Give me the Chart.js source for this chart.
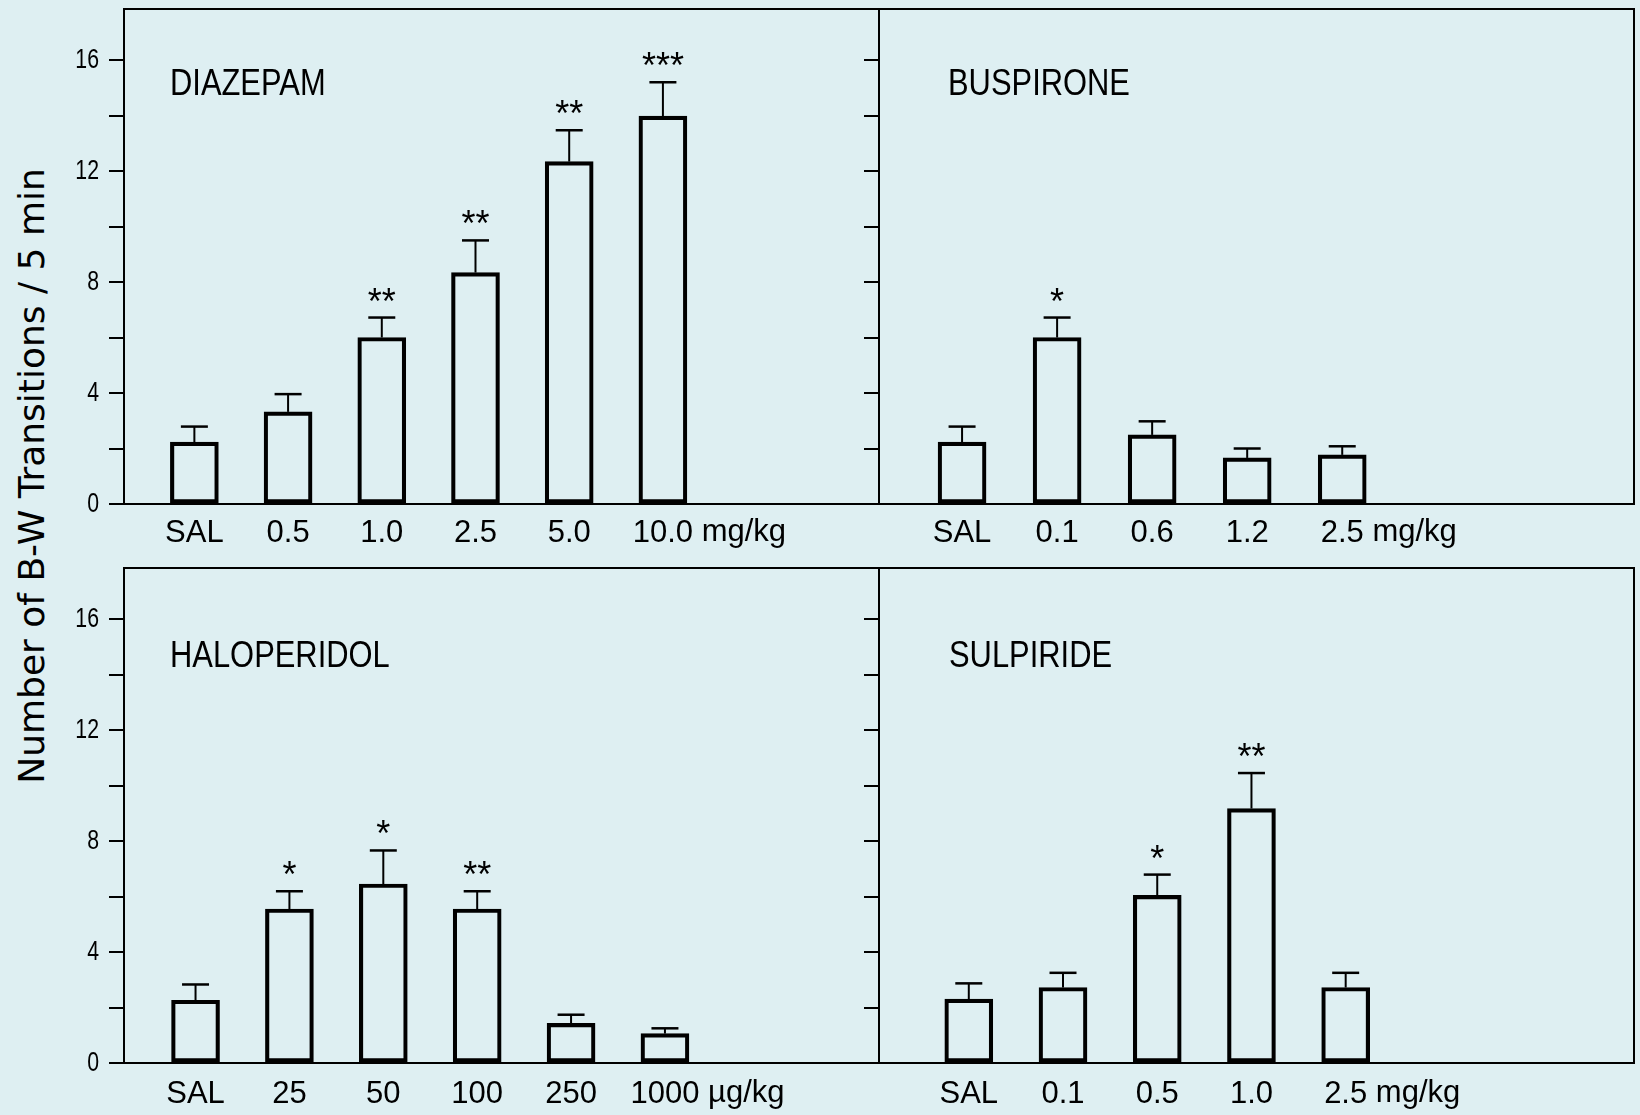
<!DOCTYPE html>
<html>
<head>
<meta charset="utf-8">
<script src="https://cdn.jsdelivr.net/npm/chart.js@4.4.1/dist/chart.umd.min.js"></script>
<style>
  html, body { margin: 0; padding: 0; background: #deeff2; }
  #page { position: relative; width: 1640px; height: 1115px; background: #deeff2; overflow: hidden; }
  .panel { position: absolute; width: 885px; }
  #ytitle {
    position: absolute; left: 31px; top: 476px;
    transform: translate(-50%, -50%) rotate(-90deg);
    font: 36px "DejaVu Sans", sans-serif; white-space: nowrap; color: #000;
  }
</style>
</head>
<body>
<div id="page">
  <div id="ytitle">Number of B-W Transitions / 5 min</div>
  <div class="panel" style="left:0;top:0;height:560px"><canvas id="diazepam"></canvas></div>
  <div class="panel" style="left:755px;top:0;height:560px"><canvas id="buspirone"></canvas></div>
  <div class="panel" style="left:0;top:559px;height:556px"><canvas id="haloperidol"></canvas></div>
  <div class="panel" style="left:755px;top:559px;height:556px"><canvas id="sulpiride"></canvas></div>
</div>
<script>
// y axis, shared by all panels
const yTicks = [0, 2, 4, 6, 8, 10, 12, 14, 16];
const yLabelled = [0, 4, 8, 12, 16];

// DIAZEPAM
const diazepamDoses = ['SAL', '0.5', '1.0', '2.5', '5.0', '10.0'];
const diazepamMeans = [2.23, 3.32, 6.0, 8.34, 12.34, 13.98];
const diazepamSem = [0.56, 0.64, 0.72, 1.16, 1.13, 1.22];
const diazepamStars = ['', '', '**', '**', '**', '***'];

// BUSPIRONE
const buspironeDoses = ['SAL', '0.1', '0.6', '1.2', '2.5'];
const buspironeMeans = [2.23, 6.0, 2.49, 1.66, 1.77];
const buspironeSem = [0.56, 0.72, 0.49, 0.34, 0.31];
const buspironeStars = ['', '*', '', '', ''];

// HALOPERIDOL
const haloperidolDoses = ['SAL', '25', '50', '100', '250', '1000'];
const haloperidolMeans = [2.26, 5.55, 6.45, 5.55, 1.43, 1.06];
const haloperidolSem = [0.57, 0.64, 1.21, 0.64, 0.31, 0.19];
const haloperidolStars = ['', '*', '*', '**', '', ''];

// SULPIRIDE
const sulpirideDoses = ['SAL', '0.1', '0.5', '1.0', '2.5'];
const sulpirideMeans = [2.30, 2.72, 6.04, 9.17, 2.72];
const sulpirideSem = [0.57, 0.53, 0.75, 1.28, 0.53];
const sulpirideStars = ['', '', '*', '**', ''];

const sans = '"Liberation Sans", Arial, sans-serif';
const xFontSize = 31;
const xLabelOffset = 25; // where chart.js puts the middle of an x label, below padding

// no narrow Arial installed, so squeeze Liberation Sans horizontally
function narrowText(ctx, text, x, y, size, squeeze, align) {
  ctx.save();
  ctx.font = size + 'px ' + sans;
  ctx.textAlign = align;
  ctx.translate(x, y);
  ctx.scale(squeeze, 1);
  ctx.fillText(text, 0, 0);
  ctx.restore();
}

// box, y labels, error bars, stars, panel name and dose unit
const decor = {
  id: 'panelDecor',
  afterDatasetsDraw(chart, args, opts) {
    const ctx = chart.ctx;
    const a = chart.chartArea;
    const x = chart.scales.x, y = chart.scales.y;
    const pts = chart.data.datasets[0].data;
    ctx.save();
    ctx.strokeStyle = '#000';
    ctx.fillStyle = '#000';
    ctx.lineWidth = 2;
    ctx.strokeRect(a.left, a.top, a.right - a.left, a.bottom - a.top);

    if (opts.showY) {
      ctx.textBaseline = 'middle';
      yLabelled.forEach(v => {
        narrowText(ctx, String(v), a.left - 25, y.getPixelForValue(v), 28, 0.76, 'right');
      });
    }

    pts.forEach((p, i) => {
      const px = x.getPixelForValue(p.x);
      const y0 = y.getPixelForValue(p.y);
      const y1 = y.getPixelForValue(p.y + opts.sem[i]);
      ctx.lineWidth = 2;
      ctx.beginPath(); ctx.moveTo(px, y0); ctx.lineTo(px, y1); ctx.stroke();
      ctx.lineWidth = 2.5;
      ctx.beginPath(); ctx.moveTo(px - 13.5, y1); ctx.lineTo(px + 13.5, y1); ctx.stroke();
      if (opts.stars[i]) {
        ctx.font = '36px ' + sans;
        ctx.textAlign = 'center';
        ctx.textBaseline = 'alphabetic';
        ctx.fillText(opts.stars[i], px, y1 - 4);
      }
    });

    ctx.textBaseline = 'alphabetic';
    narrowText(ctx, opts.title, a.left + opts.titleDx, a.top + opts.titleDy, 37, 0.835, 'left');

    const last = opts.doses.length - 1;
    ctx.font = xFontSize + 'px ' + sans;
    ctx.textAlign = 'left';
    const lx = x.getPixelForValue(last) + ctx.measureText(opts.doses[last]).width / 2;
    ctx.textBaseline = 'middle';
    ctx.fillText(' ' + opts.unit, lx, x.top + opts.xPad + xLabelOffset);
    ctx.restore();
  }
};

function makePanel(id, o) {
  const xHeight = o.canvasH - 504;
  new Chart(document.getElementById(id), {
    type: 'bar',
    data: {
      datasets: [{
        data: o.means.map((v, i) => ({ x: i, y: v })),
        backgroundColor: 'rgba(0,0,0,0)',
        borderColor: '#000',
        borderWidth: 3.5,
        borderSkipped: false,
        barThickness: 48
      }]
    },
    options: {
      responsive: true,
      maintainAspectRatio: false,
      animation: false,
      layout: { padding: { top: 9, right: 6, left: 0, bottom: 0 } },
      scales: {
        x: {
          type: 'linear',
          min: o.xMin,
          max: o.xMax,
          offset: false,
          grid: { display: false },
          border: { display: false },
          afterBuildTicks: s => { s.ticks = o.doses.map((_, i) => ({ value: i })); },
          afterFit: s => { s.height = xHeight; s.paddingLeft = 0; s.paddingRight = 0; },
          ticks: {
            autoSkip: false,
            maxRotation: 0,
            padding: o.xPad,
            color: '#000',
            font: { family: sans, size: xFontSize },
            callback: v => o.doses[Math.round(v)]
          }
        },
        y: {
          min: 0,
          max: 17.84,
          grid: { drawOnChartArea: false, drawTicks: true, tickLength: 15, color: '#000', lineWidth: 2 },
          border: { display: false },
          afterBuildTicks: s => { s.ticks = yTicks.map(v => ({ value: v })); },
          afterFit: s => { s.width = 124; s.paddingTop = 0; s.paddingBottom = 0; },
          ticks: { padding: 10, callback: () => '' }
        }
      },
      plugins: {
        legend: { display: false },
        tooltip: { enabled: false },
        panelDecor: {
          sem: o.sem, stars: o.stars, doses: o.doses, unit: o.unit, showY: o.showY,
          title: o.title, titleDx: o.titleDx, titleDy: o.titleDy, xPad: o.xPad
        }
      }
    },
    plugins: [decor]
  });
}

makePanel('diazepam', {
  title: 'DIAZEPAM', doses: diazepamDoses, means: diazepamMeans, sem: diazepamSem,
  stars: diazepamStars, unit: 'mg/kg', showY: true, canvasH: 560,
  xMin: -0.751, xMax: 7.306, xPad: 3, titleDx: 46, titleDy: 86
});
makePanel('buspirone', {
  title: 'BUSPIRONE', doses: buspironeDoses, means: buspironeMeans, sem: buspironeSem,
  stars: buspironeStars, unit: 'mg/kg', showY: false, canvasH: 560,
  xMin: -0.874, xMax: 7.07, xPad: 3, titleDx: 69, titleDy: 86
});
makePanel('haloperidol', {
  title: 'HALOPERIDOL', doses: haloperidolDoses, means: haloperidolMeans, sem: haloperidolSem,
  stars: haloperidolStars, unit: 'µg/kg', showY: true, canvasH: 556,
  xMin: -0.762, xMax: 7.28, xPad: 5, titleDx: 46, titleDy: 99
});
makePanel('sulpiride', {
  title: 'SULPIRIDE', doses: sulpirideDoses, means: sulpirideMeans, sem: sulpirideSem,
  stars: sulpirideStars, unit: 'mg/kg', showY: false, canvasH: 556,
  xMin: -0.953, xMax: 7.06, xPad: 5, titleDx: 70, titleDy: 99
});
</script>
</body>
</html>
